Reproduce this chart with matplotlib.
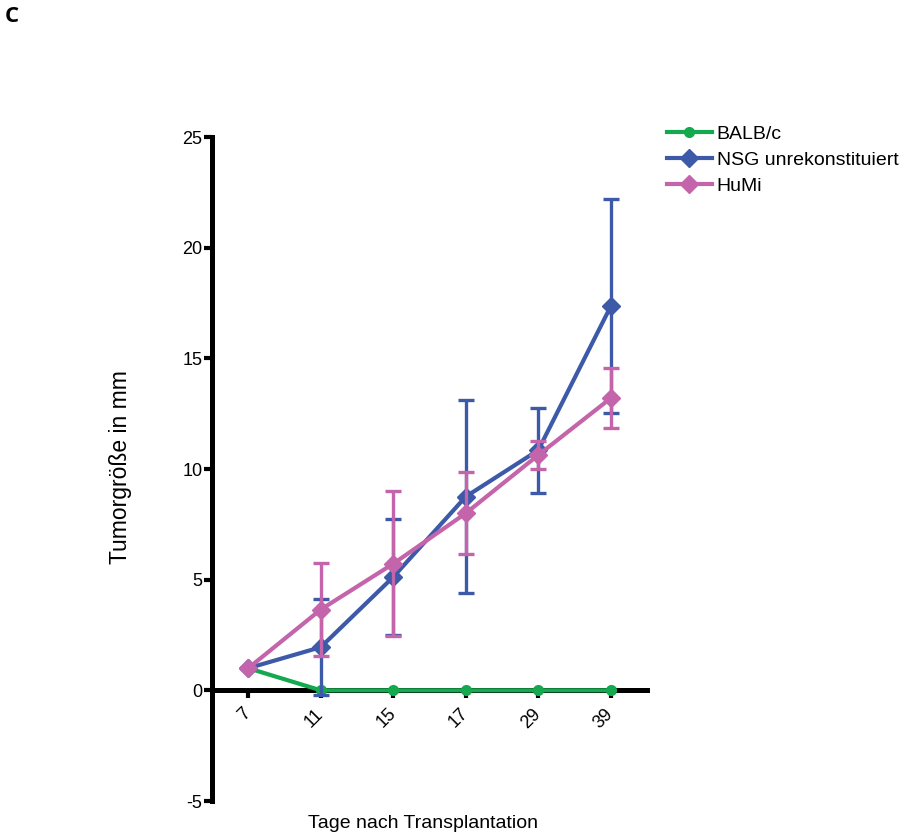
import matplotlib
matplotlib.use("Agg")
import matplotlib.pyplot as plt
from matplotlib.lines import Line2D
import numpy as np

plt.rcParams['font.family'] = ['Liberation Sans', 'DejaVu Sans']
plt.rcParams['axes.unicode_minus'] = False

days = ["7", "11", "15", "17", "29", "39"]

balb_mean = [1.0, 0.0, 0.0, 0.0, 0.0, 0.0]

nsg_mean = [1.0, 1.95, 5.12, 8.75, 10.85, 17.35]
nsg_sd = [0.0, 2.18, 2.64, 4.37, 1.92, 4.83]

humi_mean = [1.0, 3.65, 5.72, 8.0, 10.63, 13.2]
humi_sd = [0.0, 2.12, 3.28, 1.85, 0.63, 1.35]

series_names = ["BALB/c", "NSG unrekonstituiert", "HuMi"]

c_green = "#14a84f"
c_blue = "#3d5aa8"
c_pink = "#c464aa"

fig = plt.figure(figsize=(9.01, 8.38), dpi=100)
ax = fig.add_axes([212/901, 1-801/838, (647-212)/901, (801-137)/838])

# spine placement first: repositioning a spine rebuilds the tick objects
for s in ['top', 'right']:
    ax.spines[s].set_visible(False)
ax.spines['bottom'].set_position(('data', 0))
ax.spines['left'].set_linewidth(3.6)
ax.spines['bottom'].set_linewidth(3.6)
ax.spines['bottom'].set_zorder(2)

x = np.arange(len(days))

ax.plot(x, balb_mean, color=c_green, lw=3, marker='o', ms=7,
        zorder=3, clip_on=False)
ax.errorbar(x, nsg_mean, yerr=nsg_sd, color=c_blue, lw=3, marker='D', ms=9,
            capsize=6, capthick=2.4, elinewidth=2.4, zorder=4, clip_on=False)
ax.errorbar(x, humi_mean, yerr=humi_sd, color=c_pink, lw=3, marker='D', ms=9,
            capsize=6, capthick=2.4, elinewidth=2.4, zorder=5, clip_on=False)

ax.set_xlim(-0.5, 5.5)
ax.set_ylim(-5, 25)
ax.set_yticks([-5, 0, 5, 10, 15, 20, 25])
ax.set_xticks(x)
ax.tick_params(axis='y', length=6, width=3, labelsize=13, pad=1)
ax.tick_params(axis='x', length=6, width=3, pad=9)
ax.set_xticklabels(days, rotation=45, ha='right', va='center',
                   rotation_mode='anchor', fontsize=13)

fig.text(121/901, 1-467/838, "Tumorgröße in mm", fontsize=16.5,
         rotation=90, ha='center', va='center')
fig.text(423/901, 1-823/838, "Tage nach Transplantation", fontsize=14,
         ha='center', va='center')

fig.text(5/901, 1-17/838, "C", fontsize=16, fontweight='bold',
         ha='left', va='center', family=['Open Sans', 'DejaVu Sans'])

handles = [
    Line2D([], [], color=c_green, lw=3, marker='o', ms=7),
    Line2D([], [], color=c_blue, lw=3, marker='D', ms=9),
    Line2D([], [], color=c_pink, lw=3, marker='D', ms=9),
]
fig.legend(handles, series_names, loc='upper left',
           bbox_to_anchor=(667/901, 1-125/838), frameon=False,
           fontsize=14, handlelength=2.3, handletextpad=0.25,
           labelspacing=0.43, borderaxespad=0, borderpad=0)

fig.savefig("out.png", dpi=100)
